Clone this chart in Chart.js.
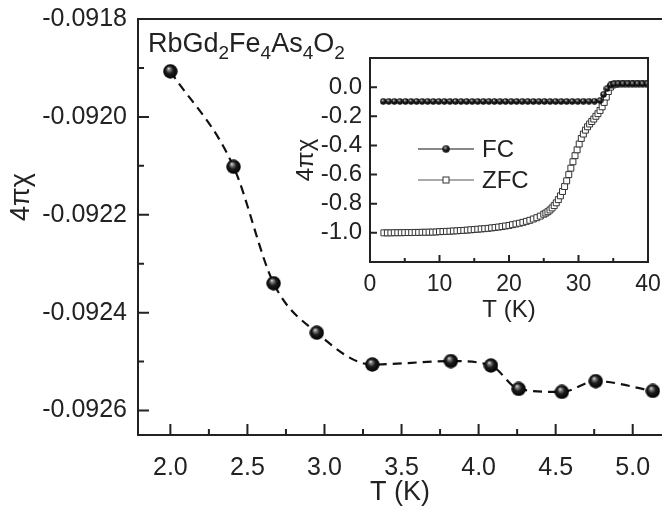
<!DOCTYPE html>
<html>
<head>
<meta charset="utf-8">
<script src="https://cdn.jsdelivr.net/npm/chart.js@4.4.0/dist/chart.umd.min.js"></script>
<style>
    html, body { margin: 0; padding: 0; background: #fff; }
    #wrap { position: relative; width: 662px; height: 509px; overflow: hidden; }
    #mainChart { position: absolute; left: 0; top: 0; }
    #insetChart { position: absolute; left: 290px; top: 45px; }
</style>
</head>
<body>
<div id="wrap">
    <canvas id="mainChart" width="662" height="509"></canvas>
    <canvas id="insetChart" width="372" height="285"></canvas>
</div>
<script>
// main panel: low temperature 4πχ
const mainT = [2.00, 2.41, 2.67, 2.95, 3.31, 3.82, 4.08, 4.26, 4.54, 4.76, 5.13];
const mainChi = [-0.091907, -0.092102, -0.092340, -0.092441, -0.092506, -0.092499, -0.092508, -0.092556, -0.092562, -0.092540, -0.092560];
const mainXMajor = [2.0, 2.5, 3.0, 3.5, 4.0, 4.5, 5.0];
const mainXMinor = [2.25, 2.75, 3.25, 3.75, 4.25, 4.75];
const mainYMajor = [-0.0918, -0.0920, -0.0922, -0.0924, -0.0926];
const mainYMinor = [-0.0919, -0.0921, -0.0923, -0.0925];

// inset: FC / ZFC up to 40 K
const fcT = [1.9, 2.7, 3.5, 4.3, 5.1, 5.9, 6.7, 7.5, 8.3, 9.1, 9.9, 10.7, 11.5, 12.3, 13.1, 13.9, 14.7, 15.5, 16.3, 17.1,
    17.9, 18.7, 19.5, 20.3, 21.1, 21.9, 22.7, 23.5, 24.3, 25.1, 25.9, 26.7, 27.5, 28.3, 29.1, 29.9, 30.7, 31.5, 32.3, 33.1,
    33.6, 34.1, 34.6, 35.1, 35.7, 36.4, 37.1, 37.8, 38.5, 39.2, 39.9];
const fcChi = [-0.098, -0.098, -0.098, -0.098, -0.098, -0.098, -0.098, -0.098, -0.098, -0.098, -0.098, -0.098, -0.098, -0.098, -0.098, -0.098, -0.098, -0.098, -0.098, -0.098,
    -0.098, -0.098, -0.098, -0.098, -0.098, -0.098, -0.098, -0.098, -0.098, -0.098, -0.098, -0.098, -0.098, -0.098, -0.098, -0.098, -0.097, -0.097, -0.096, -0.092,
    -0.050, -0.010, 0.015, 0.022, 0.023, 0.023, 0.023, 0.023, 0.023, 0.023, 0.023];
const zfcT = [2.0, 2.5, 3.0, 3.5, 4.0, 4.5, 5.0, 5.5, 6.0, 6.5, 7.0, 7.5, 8.0, 8.5, 9.0, 9.5,
    10.0, 10.5, 11.0, 11.5, 12.0, 12.5, 13.0, 13.5, 14.0, 14.5, 15.0, 15.5, 16.0, 16.5, 17.0, 17.5,
    18.0, 18.5, 19.0, 19.5, 20.0, 20.5, 21.0, 21.5, 22.0, 22.5, 23.0, 23.5, 24.0, 24.5, 25.0,
    25.3, 25.6, 25.9, 26.2, 26.5, 26.8, 27.1, 27.4, 27.7, 28.0, 28.3, 28.6, 28.9, 29.2, 29.5, 29.8,
    30.1, 30.4, 30.7, 31.0, 31.3, 31.6, 31.9, 32.2, 32.5, 32.8, 33.1, 33.4, 33.7, 34.0, 34.3, 34.6, 34.9,
    35.2, 35.5, 36.0, 36.5, 37.0, 37.5, 38.0, 38.5, 39.0, 39.5, 40.0];
const zfcChi = [-1.000, -1.000, -1.000, -0.999, -0.999, -0.999, -0.998, -0.998, -0.998, -0.997, -0.997, -0.996, -0.996, -0.995, -0.995, -0.994,
    -0.992, -0.991, -0.990, -0.989, -0.987, -0.986, -0.984, -0.983, -0.981, -0.979, -0.977, -0.975, -0.973, -0.971, -0.969, -0.966,
    -0.963, -0.960, -0.957, -0.953, -0.949, -0.944, -0.939, -0.934, -0.928, -0.921, -0.914, -0.905, -0.896, -0.885, -0.872,
    -0.864, -0.855, -0.843, -0.829, -0.813, -0.794, -0.772, -0.746, -0.716, -0.682, -0.643, -0.600, -0.556, -0.512, -0.470, -0.430,
    -0.390, -0.352, -0.322, -0.295, -0.272, -0.253, -0.236, -0.219, -0.200, -0.182, -0.160, -0.135, -0.105, -0.068, -0.030, 0.000, 0.014,
    0.019, 0.021, 0.022, 0.022, 0.022, 0.022, 0.022, 0.022, 0.022, 0.022, 0.022];
const insetXMajor = [0, 10, 20, 30, 40];
const insetXMinor = [5, 15, 25, 35];
const insetYMajor = [0.0, -0.2, -0.4, -0.6, -0.8, -1.0];

const ink = '#222';
const font = 'Liberation Sans, Arial, sans-serif';
Chart.defaults.font.family = font;
Chart.defaults.color = ink;

// shaded ball used as point marker
function makeBall(d) {
    const c = document.createElement('canvas');
    c.width = d; c.height = d;
    const g = c.getContext('2d');
    const r = d / 2;
    const grad = g.createRadialGradient(r * 0.75, r * 0.6, 0, r, r, r);
    grad.addColorStop(0, '#f2f2f2');
    grad.addColorStop(0.18, '#8a8a8a');
    grad.addColorStop(0.5, '#1c1c1c');
    grad.addColorStop(1, '#000');
    g.fillStyle = grad;
    g.beginPath(); g.arc(r, r, r - 0.3, 0, Math.PI * 2); g.fill();
    return c;
}
const bigBall = makeBall(15);
const smallBall = makeBall(7);

// frame lines and inward tick marks
const frame = {
    id: 'frame',
    afterDatasetsDraw(chart, args, o) {
        const { ctx, chartArea: a, scales: { x, y } } = chart;
        ctx.save();
        ctx.strokeStyle = ink;
        ctx.lineWidth = o.width;
        ctx.lineCap = 'square';
        ctx.beginPath();
        ctx.moveTo(a.left, a.top); ctx.lineTo(a.left, a.bottom); ctx.lineTo(a.right, a.bottom);
        ctx.moveTo(a.left, a.top); ctx.lineTo(a.right, a.top);
        if (o.right) { ctx.moveTo(a.right, a.top); ctx.lineTo(a.right, a.bottom); }
        ctx.stroke();
        ctx.lineCap = 'butt';
        ctx.beginPath();
        o.xMajor.forEach(v => { const px = x.getPixelForValue(v); ctx.moveTo(px, a.bottom); ctx.lineTo(px, a.bottom - o.major); });
        o.xMinor.forEach(v => { const px = x.getPixelForValue(v); ctx.moveTo(px, a.bottom); ctx.lineTo(px, a.bottom - o.minor); });
        o.yMajor.forEach(v => { const py = y.getPixelForValue(v); ctx.moveTo(a.left, py); ctx.lineTo(a.left + o.major, py); });
        o.yMinor.forEach(v => { const py = y.getPixelForValue(v); ctx.moveTo(a.left, py); ctx.lineTo(a.left + o.minor, py); });
        ctx.stroke();
        ctx.restore();
    }
};

// compound name with subscripts, plus the rotated y title of the main panel
const labels = {
    id: 'labels',
    afterDraw(chart, args, o) {
        const ctx = chart.ctx;
        ctx.save();
        ctx.fillStyle = ink;
        if (o.parts) {
            ctx.textBaseline = 'alphabetic';
            let cx = o.x;
            o.parts.forEach(([txt, sub]) => {
                ctx.font = `${o.size}px ${font}`;
                ctx.fillText(txt, cx, o.y);
                cx += ctx.measureText(txt).width;
                if (sub) {
                    ctx.font = `${o.subSize}px ${font}`;
                    ctx.fillText(sub, cx, o.y + o.subDrop);
                    cx += ctx.measureText(sub).width;
                }
            });
        }
        if (o.yTitle) {
            ctx.translate(o.yTitle.x, o.yTitle.y);
            ctx.rotate(-Math.PI / 2);
            ctx.font = `${o.yTitle.size}px ${font}`;
            ctx.textAlign = 'center';
            ctx.textBaseline = 'middle';
            ctx.fillText(o.yTitle.text, 0, 0);
        }
        ctx.restore();
    }
};

// inset legend
const insetLegend = {
    id: 'insetLegend',
    afterDraw(chart, args, o) {
        if (!o.items) return;
        const ctx = chart.ctx;
        ctx.save();
        o.items.forEach((it, i) => {
            const ds = chart.data.datasets[i];
            const y = it.y;
            ctx.strokeStyle = ds.borderColor;
            ctx.lineWidth = 1;
            ctx.beginPath(); ctx.moveTo(o.x0, y); ctx.lineTo(o.x1, y); ctx.stroke();
            const mx = (o.x0 + o.x1) / 2;
            if (ds.pointStyle === 'rect') {
                ctx.fillStyle = '#fff';
                ctx.fillRect(mx - 3, y - 3, 6, 6);
                ctx.strokeStyle = ds.pointBorderColor;
                ctx.strokeRect(mx - 3, y - 3, 6, 6);
            } else {
                ctx.drawImage(smallBall, mx - 4, y - 4, 8, 8);
            }
            ctx.fillStyle = ink;
            ctx.font = `${o.size}px ${font}`;
            ctx.textBaseline = 'middle';
            ctx.fillText(ds.label, o.x1 + 8, y + 1);
        });
        ctx.restore();
    }
};

function fixedTicks(list) {
    return s => { s.ticks = list.map(v => ({ value: v })); };
}
// force the scale box size and drop the label overhang padding
function fixSize(dim, size) {
    return s => {
        s[dim] = size;
        s.paddingLeft = 0; s.paddingRight = 0; s.paddingTop = 0; s.paddingBottom = 0;
    };
}
const noGrid = { display: false, drawTicks: false };

new Chart(document.getElementById('mainChart'), {
    type: 'line',
    data: {
        datasets: [{
            label: '4πχ',
            data: mainT.map((t, i) => ({ x: t, y: mainChi[i] })),
            borderColor: '#111',
            borderWidth: 2.2,
            borderDash: [9, 6],
            cubicInterpolationMode: 'monotone',
            pointStyle: bigBall,
            pointRadius: 7,
            fill: false
        }]
    },
    options: {
        responsive: false,
        animation: false,
        layout: { autoPadding: false, padding: { top: 19, right: 0, left: 0, bottom: 0 } },
        plugins: {
            legend: { display: false },
            tooltip: { enabled: false },
            frame: { width: 2, major: 11, minor: 6, right: false, xMajor: mainXMajor, xMinor: mainXMinor, yMajor: mainYMajor, yMinor: mainYMinor },
            labels: {
                x: 148, y: 52, size: 27, subSize: 19, subDrop: 7, parts: [['RbGd', '2'], ['Fe', '4'], ['As', '4'], ['O', '2']],
                yTitle: { text: '4πχ', x: 22, y: 197, size: 27 }
            }
        },
        scales: {
            x: {
                type: 'linear', min: 1.79, max: 5.19,
                grid: noGrid, border: { display: false },
                afterBuildTicks: fixedTicks(mainXMajor),
                afterFit: fixSize('height', 74),
                ticks: { padding: 18, font: { size: 25 }, maxRotation: 0, autoSkip: false, callback: v => v.toFixed(1) },
                title: { display: true, text: 'T (K)', font: { size: 27 }, padding: { top: 0, bottom: 0 } }
            },
            y: {
                type: 'linear', min: -0.09265, max: -0.0918,
                grid: noGrid, border: { display: false },
                afterBuildTicks: fixedTicks(mainYMajor),
                afterFit: fixSize('width', 138),
                ticks: { padding: 11, font: { size: 25 }, autoSkip: false, callback: v => v.toFixed(4) }
            }
        }
    },
    plugins: [frame, labels]
});

new Chart(document.getElementById('insetChart'), {
    type: 'line',
    data: {
        datasets: [{
            label: 'FC',
            data: fcT.map((t, i) => ({ x: t, y: fcChi[i] })),
            borderColor: '#111',
            borderWidth: 1,
            pointStyle: smallBall,
            pointRadius: 3.5,
            fill: false
        }, {
            label: 'ZFC',
            data: zfcT.map((t, i) => ({ x: t, y: zfcChi[i] })),
            borderColor: '#555',
            borderWidth: 1,
            pointStyle: 'rect',
            pointRadius: 4.2,
            pointBorderWidth: 1,
            pointBorderColor: '#333',
            pointBackgroundColor: '#fff',
            fill: false
        }]
    },
    options: {
        responsive: false,
        animation: false,
        layout: { autoPadding: false, padding: { top: 13, right: 14, left: 0, bottom: 0 } },
        plugins: {
            legend: { display: false },
            tooltip: { enabled: false },
            frame: { width: 2, major: 7, minor: 4, right: true, xMajor: insetXMajor, xMinor: insetXMinor, yMajor: insetYMajor, yMinor: [] },
            insetLegend: { x0: 128, x1: 184, size: 24, items: [{ y: 104 }, { y: 135 }] }
        },
        scales: {
            x: {
                type: 'linear', min: 0, max: 40,
                grid: noGrid, border: { display: false },
                afterBuildTicks: fixedTicks(insetXMajor),
                afterFit: fixSize('height', 68),
                ticks: { padding: 9, font: { size: 23 }, maxRotation: 0, autoSkip: false, callback: v => String(v) },
                title: { display: true, text: 'T (K)', font: { size: 24 }, padding: { top: 0, bottom: 5 } }
            },
            y: {
                type: 'linear', min: -1.2, max: 0.2,
                grid: noGrid, border: { display: false },
                afterBuildTicks: fixedTicks(insetYMajor),
                afterFit: fixSize('width', 80),
                ticks: { padding: 8, font: { size: 24 }, autoSkip: false, callback: v => v.toFixed(1) },
                title: { display: true, text: '4πχ', font: { size: 24 }, padding: { top: 2, bottom: 0 } }
            }
        }
    },
    plugins: [frame, insetLegend]
});
</script>
</body>
</html>
